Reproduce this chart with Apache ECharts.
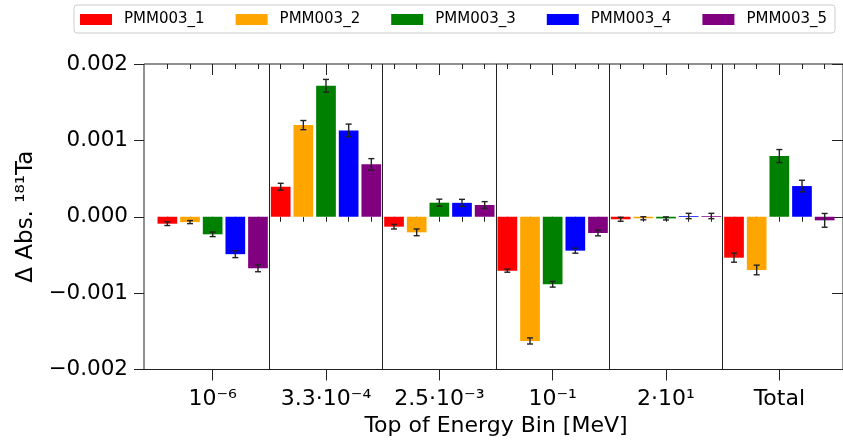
<!DOCTYPE html>
<html><head><meta charset="utf-8">
<script src="https://cdn.jsdelivr.net/npm/echarts@6/dist/echarts.min.js"></script>
<style>html,body{margin:0;padding:0;background:#fff}#c{width:843px;height:443px}</style>
</head><body><div id="c"></div>
<script>
const groups = ['10⁻⁶', '3.3·10⁻⁴', '2.5·10⁻³', '10⁻¹', '2·10¹', 'Total'];
const seriesNames = ['PMM003_1', 'PMM003_2', 'PMM003_3', 'PMM003_4', 'PMM003_5'];
const colors = ['#ff0000', '#ffa500', '#008000', '#0000ff', '#800080'];

const pmm1 = [-0.000091, 0.000393, -0.000130, -0.000706, -0.000033, -0.000536];
const pmm2 = [-0.000070, 0.001200, -0.000204, -0.001626, -0.000020, -0.000697];
const pmm3 = [-0.000230, 0.001715, 0.000184, -0.000884, -0.000022, 0.000795];
const pmm4 = [-0.000490, 0.001130, 0.000182, -0.000444, 0.000010, 0.000402];
const pmm5 = [-0.000675, 0.000686, 0.000154, -0.000213, 0.000010, -0.000047];

const err1 = [0.000024, 0.000045, 0.000030, 0.000020, 0.000026, 0.000059];
const err2 = [0.000020, 0.000060, 0.000044, 0.000040, 0.000020, 0.000063];
const err3 = [0.000030, 0.000083, 0.000046, 0.000037, 0.000020, 0.000085];
const err4 = [0.000045, 0.000083, 0.000046, 0.000033, 0.000035, 0.000076];
const err5 = [0.000045, 0.000075, 0.000044, 0.000037, 0.000035, 0.000090];

const yTicks = [-0.002, -0.001, 0.000, 0.001, 0.002];

const values = [pmm1, pmm2, pmm3, pmm4, pmm5];
const errors = [err1, err2, err3, err4, err5];
const FONT = 'DejaVu Sans';
const nBars = groups.length * seriesNames.length;
const barCats = Array.from({length: nBars}, (_, i) => String(i));

const chart = echarts.init(document.getElementById('c'), null, {renderer: 'canvas'});

const yFmt = v => (v < 0 ? '\u2212' : '') + Math.abs(v).toFixed(3);

const series = [];
values.forEach((vals, s) => {
  series.push({
    name: seriesNames[s], type: 'bar', xAxisIndex: 3, yAxisIndex: 2,
    data: vals, barWidth: 19.7, barGap: '15%',
    itemStyle: {color: colors[s]}, z: 2
  });
});
values.forEach((vals, s) => {
  const data = vals.map((v, g) => [g * seriesNames.length + s, v - errors[s][g], v + errors[s][g]]);
  series.push({
    type: 'custom', xAxisIndex: 1, yAxisIndex: 2, data: data, z: 5, silent: true,
    renderItem: function (params, api) {
      const lo = api.coord([api.value(0), api.value(1)]);
      const hi = api.coord([api.value(0), api.value(2)]);
      const cw = 3;
      const st = {stroke: '#222', lineWidth: 1.4};
      return {type: 'group', children: [
        {type: 'line', shape: {x1: lo[0], y1: lo[1], x2: hi[0], y2: hi[1]}, style: st},
        {type: 'line', shape: {x1: lo[0] - cw, y1: lo[1], x2: lo[0] + cw, y2: lo[1]}, style: st},
        {type: 'line', shape: {x1: hi[0] - cw, y1: hi[1], x2: hi[0] + cw, y2: hi[1]}, style: st}
      ]};
    }
  });
});

const yBase = {min: yTicks[0], max: yTicks[yTicks.length - 1], interval: 0.001, splitLine: {show: false}};

chart.setOption({
  animation: false,
  textStyle: {fontFamily: FONT},
  legend: {
    data: seriesNames, left: 74, top: 5, width: 800, icon: 'rect',
    itemWidth: 32, itemHeight: 11, itemGap: 31,
    padding: [7, 8, 6, 6], borderColor: '#cccccc', borderWidth: 1, borderRadius: 3,
    textStyle: {fontFamily: FONT, fontSize: 15, color: '#000', padding: [0, 0, 0, 7]}
  },
  grid: [
    {left: 144, top: 64, width: 704, height: 305.5, show: true, borderColor: '#222', borderWidth: 1, containLabel: false},
    {left: 156, top: 64, width: 680, height: 305.5, show: false, containLabel: false}
  ],
  xAxis: [
    {gridIndex: 0, type: 'value', min: 0, max: 1, show: false},
    {gridIndex: 1, type: 'category', data: barCats, position: 'bottom',
      axisLine: {show: false}, axisTick: {show: true, interval: 0, alignWithLabel: true, length: 5, lineStyle: {color: '#222'}},
      axisLabel: {show: false, interval: 0}, splitLine: {show: false}},
    {gridIndex: 1, type: 'category', data: barCats, position: 'top',
      axisLine: {show: false}, axisTick: {show: true, interval: 0, inside: true, alignWithLabel: true, length: 5, lineStyle: {color: '#222'}},
      axisLabel: {show: false, interval: 0}, splitLine: {show: false}},
    {gridIndex: 1, type: 'category', data: groups, position: 'bottom',
      axisLine: {show: false}, axisTick: {show: true, interval: 0, alignWithLabel: true, length: 11, lineStyle: {color: '#222'}},
      axisLabel: {show: true, interval: 0, hideOverlap: false, fontFamily: FONT, fontSize: 22, color: '#000', margin: 19},
      splitLine: {show: true, interval: 0, showMinLine: false, showMaxLine: false, lineStyle: {color: '#222', width: 1}},
      name: 'Top of Energy Bin [MeV]', nameLocation: 'middle', nameGap: 45,
      nameTextStyle: {fontFamily: FONT, fontSize: 22, color: '#000'}},
    {gridIndex: 1, type: 'category', data: groups, position: 'top',
      axisLine: {show: false}, axisTick: {show: true, interval: 0, inside: true, alignWithLabel: true, length: 11, lineStyle: {color: '#222'}},
      axisLabel: {show: false, interval: 0}, splitLine: {show: false}}
  ],
  yAxis: [
    Object.assign({gridIndex: 0, type: 'value', position: 'left',
      axisLine: {show: false}, axisTick: {show: true, length: 10, lineStyle: {color: '#222'}},
      axisLabel: {show: true, fontFamily: FONT, fontSize: 21.5, color: '#000', margin: 16, formatter: yFmt},
      name: 'Δ Abs. ¹⁸¹Ta', nameLocation: 'middle', nameRotate: 90, nameGap: 104,
      nameTextStyle: {fontFamily: FONT, fontSize: 23, color: '#000'}}, yBase),
    Object.assign({gridIndex: 0, type: 'value', position: 'right',
      axisLine: {show: false}, axisTick: {show: true, inside: true, length: 11, lineStyle: {color: '#222'}},
      axisLabel: {show: false}}, yBase),
    Object.assign({gridIndex: 1, type: 'value', show: false}, yBase)
  ],
  series: series
});
</script>
</body></html>
